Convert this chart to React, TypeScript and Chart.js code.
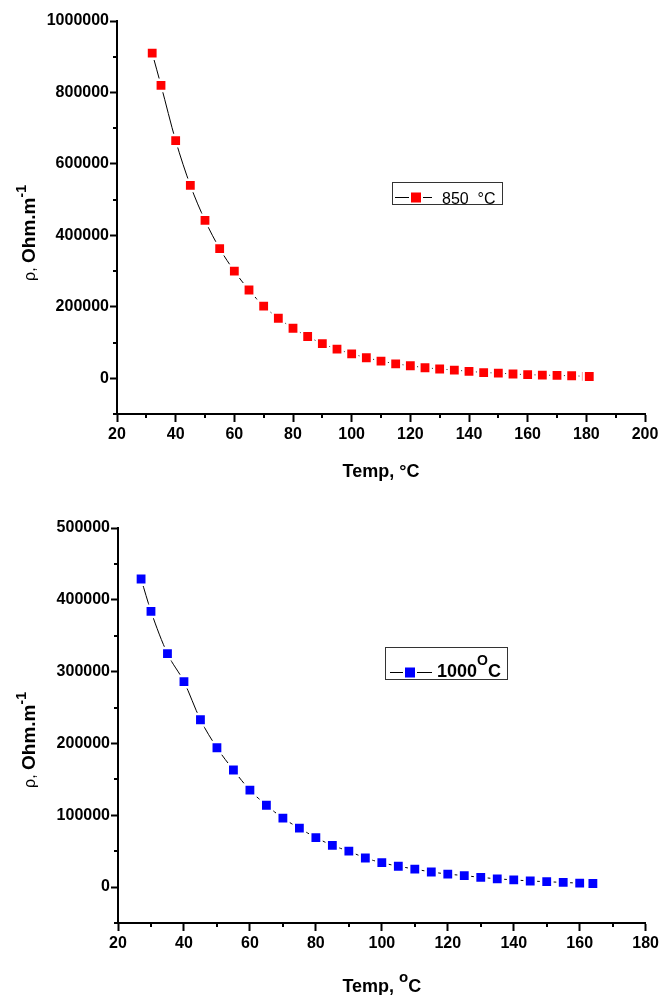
import React, { useEffect, useRef } from 'react';
import { Chart, registerables } from 'chart.js';
Chart.register(...registerables);

// ---------- DATA ----------
const temps850 = [32, 35, 40, 45, 50, 55, 60, 65, 70, 75, 80, 85, 90, 95, 100, 105, 110, 115, 120, 125, 130, 135, 140, 145, 150, 155, 160, 165, 170, 175, 180, 181];
const rho850 = [910000, 820000, 665000, 540000, 442000, 363000, 300000, 247000, 202000, 168000, 140000, 117000, 97000, 81500, 68500, 57500, 48000, 40500, 35000, 29500, 26000, 23000, 19500, 16000, 14500, 12000, 10000, 9000, 8000, 7000, 5500, 5000];

const temps1000 = [27, 30, 35, 40, 45, 50, 55, 60, 65, 70, 75, 80, 85, 90, 95, 100, 105, 110, 115, 120, 125, 130, 135, 140, 145, 150, 155, 160, 164];
const rho1000 = [429000, 384000, 325000, 286000, 233000, 194000, 163000, 135000, 114000, 96000, 82000, 69000, 58000, 50000, 40500, 34000, 29000, 25000, 21000, 18000, 16000, 13500, 11500, 10000, 8500, 7500, 6500, 5500, 5000];

const xMajorTop = [20, 40, 60, 80, 100, 120, 140, 160, 180, 200];
const yMajorTop = [0, 200000, 400000, 600000, 800000, 1000000];
const xMajorBottom = [20, 40, 60, 80, 100, 120, 140, 160, 180];
const yMajorBottom = [0, 100000, 200000, 300000, 400000, 500000];

const FONT = 'Liberation Sans, Arial, Helvetica, sans-serif';

type Part = { t: string; font: string; dy?: number };

function drawRich(ctx: CanvasRenderingContext2D, parts: Part[], x: number, y: number, align: 'center' | 'left') {
  let w = 0;
  for (const p of parts) { ctx.font = p.font; w += ctx.measureText(p.t).width; }
  let cx = align === 'center' ? x - w / 2 : x;
  ctx.textAlign = 'left';
  ctx.textBaseline = 'alphabetic';
  for (const p of parts) {
    ctx.font = p.font;
    ctx.fillText(p.t, cx, y + (p.dy || 0));
    cx += ctx.measureText(p.t).width;
  }
}

const decorPlugin = {
  id: 'decor',
  afterDraw(chart: any, _args: any, opts: any) {
    const ctx: CanvasRenderingContext2D = chart.ctx;
    const xs = chart.scales.x, ys = chart.scales.y;
    ctx.save();
    // minor ticks
    ctx.strokeStyle = '#000';
    ctx.lineWidth = 2;
    for (const t of xs.ticks) {
      if (opts.xMajor.includes(t.value)) continue;
      const px = Math.round(xs.getPixelForValue(t.value));
      ctx.beginPath(); ctx.moveTo(px, xs.top); ctx.lineTo(px, xs.top + 4); ctx.stroke();
    }
    for (const t of ys.ticks) {
      if (opts.yMajor.includes(t.value)) continue;
      const py = Math.round(ys.getPixelForValue(t.value));
      ctx.beginPath(); ctx.moveTo(ys.right, py); ctx.lineTo(ys.right - 4, py); ctx.stroke();
    }
    ctx.fillStyle = '#000';
    // x title
    drawRich(ctx, opts.xTitle, (chart.chartArea.left + chart.chartArea.right) / 2, opts.xTitleY, 'center');
    // y title
    ctx.save();
    ctx.translate(opts.yTitleX, opts.yTitleY);
    ctx.rotate(-Math.PI / 2);
    drawRich(ctx, opts.yTitle, 0, 0, 'center');
    ctx.restore();
    // legend
    const L = opts.legend;
    const ds = chart.data.datasets[0];
    ctx.strokeStyle = '#333';
    ctx.lineWidth = 1;
    ctx.strokeRect(L.left + 0.5, L.top + 0.5, L.width, L.height);
    ctx.strokeStyle = '#000';
    ctx.lineWidth = 1;
    const half = L.markerSize / 2;
    ctx.beginPath();
    ctx.moveTo(L.lineX1, L.lineY + 0.5); ctx.lineTo(L.markerX - half - 2, L.lineY + 0.5);
    ctx.moveTo(L.markerX + half + 2, L.lineY + 0.5); ctx.lineTo(L.lineX2, L.lineY + 0.5);
    ctx.stroke();
    ctx.fillStyle = ds.pointBackgroundColor;
    ctx.fillRect(L.markerX - half, L.lineY + 0.5 - half, L.markerSize, L.markerSize);
    ctx.fillStyle = '#000';
    drawRich(ctx, L.text, L.textX, L.textY, 'left');
    ctx.restore();
  },
};

function makeConfig(p: any) {
  return {
    type: 'line',
    data: {
      datasets: [{
        label: p.label,
        data: p.temps.map((t: number, i: number) => ({ x: t, y: p.values[i] })),
        borderColor: '#000',
        borderWidth: 1,
        cubicInterpolationMode: 'monotone',
        pointStyle: 'rect',
        pointRadius: 8,
        pointBorderWidth: 2.5,
        pointBackgroundColor: p.color,
        pointBorderColor: '#ffffff',
      }],
    },
    options: {
      responsive: false,
      animation: false,
      events: [],
      layout: { padding: p.padding },
      plugins: {
        legend: { display: false },
        tooltip: { enabled: false },
        decor: p.decor,
      },
      scales: {
        x: {
          type: 'linear',
          min: p.xMin, max: p.xMax,
          afterFit: (s: any) => { s.height = p.xHeight; },
          border: { display: true, color: '#000', width: 2, z: 1 },
          grid: {
            drawOnChartArea: false, drawTicks: true, tickLength: 8, tickWidth: 2,
            tickColor: (c: any) => (c.tick && p.xMajor.includes(c.tick.value) ? '#000' : 'rgba(0,0,0,0)'),
          },
          ticks: {
            stepSize: p.xStep, autoSkip: false, maxRotation: 0, padding: 3, color: '#000',
            font: { family: FONT, size: 16, weight: 'bold' },
            callback: (v: number) => (p.xMajor.includes(v) ? String(v) : ''),
          },
        },
        y: {
          type: 'linear',
          min: p.yMin, max: p.yMax,
          afterFit: (s: any) => { s.width = p.yWidth; },
          border: { display: true, color: '#000', width: 2, z: 1 },
          grid: {
            drawOnChartArea: false, drawTicks: true, tickLength: 7, tickWidth: 2,
            tickColor: (c: any) => (c.tick && p.yMajor.includes(c.tick.value) ? '#000' : 'rgba(0,0,0,0)'),
          },
          ticks: {
            stepSize: p.yStep, autoSkip: false, padding: 1, color: '#000', maxTicksLimit: 100,
            font: { family: FONT, size: 16, weight: 'bold' },
            callback: (v: number) => (p.yMajor.includes(v) ? String(v) : ''),
          },
        },
      },
    },
    plugins: [decorPlugin],
  };
}

const yTitleParts: Part[] = [
  { t: 'ρ, ', font: `16px ${FONT}` },
  { t: 'Ohm.m', font: `bold 19px ${FONT}` },
  { t: '-1', font: `bold 14px ${FONT}`, dy: -9 },
];

function ChartCanvas({ cfg, width, height }: { cfg: any; width: number; height: number }) {
  const ref = useRef<HTMLCanvasElement>(null);
  useEffect(() => {
    const chart = new Chart(ref.current as HTMLCanvasElement, cfg);
    return () => chart.destroy();
  }, []);
  return <canvas ref={ref} width={width} height={height} style={{ display: 'block', width, height }} />;
}

export default function App() {
  useEffect(() => { document.body.style.margin = '0'; }, []);
  const topCfg = makeConfig({
    label: '850 °C', temps: temps850, values: rho850, color: '#ff0000',
    xMin: 20, xMax: 200, xStep: 10, xMajor: xMajorTop,
    yMin: -100000, yMax: 1000000, yStep: 100000, yMajor: yMajorTop,
    padding: { top: 21, right: 17, left: 0, bottom: 0 }, xHeight: 83, yWidth: 117,
    decor: {
      xMajor: xMajorTop, yMajor: yMajorTop,
      xTitle: [{ t: 'Temp, °C', font: `bold 18px ${FONT}` }], xTitleY: 477,
      yTitle: yTitleParts, yTitleX: 35, yTitleY: 233,
      legend: {
        left: 392, top: 182, width: 110, height: 22,
        lineX1: 395, lineX2: 432, lineY: 197, markerX: 416, markerSize: 10,
        text: [{ t: '850  °C', font: `16px ${FONT}` }], textX: 442, textY: 204,
      },
    },
  });
  const botCfg = makeConfig({
    label: '1000 °C', temps: temps1000, values: rho1000, color: '#0000ff',
    xMin: 20, xMax: 180, xStep: 10, xMajor: xMajorBottom,
    yMin: -50000, yMax: 500000, yStep: 50000, yMajor: yMajorBottom,
    padding: { top: 31, right: 16, left: 0, bottom: 0 }, xHeight: 72, yWidth: 118,
    decor: {
      xMajor: xMajorBottom, yMajor: yMajorBottom,
      xTitle: [
        { t: 'Temp, ', font: `bold 18px ${FONT}` },
        { t: 'o', font: `bold 15px ${FONT}`, dy: -10 },
        { t: 'C', font: `bold 18px ${FONT}` },
      ], xTitleY: 495,
      yTitle: yTitleParts, yTitleX: 35, yTitleY: 243,
      legend: {
        left: 385, top: 150, width: 122, height: 32,
        lineX1: 390, lineX2: 432, lineY: 175, markerX: 410, markerSize: 10,
        text: [
          { t: '1000', font: `bold 18px ${FONT}` },
          { t: 'O', font: `bold 14px ${FONT}`, dy: -12 },
          { t: 'C', font: `bold 18px ${FONT}` },
        ], textX: 437, textY: 180,
      },
    },
  });
  return (
    <div style={{ width: 662, height: 995, background: '#fff' }}>
      <ChartCanvas cfg={topCfg} width={662} height={497} />
      <ChartCanvas cfg={botCfg} width={662} height={498} />
    </div>
  );
}
